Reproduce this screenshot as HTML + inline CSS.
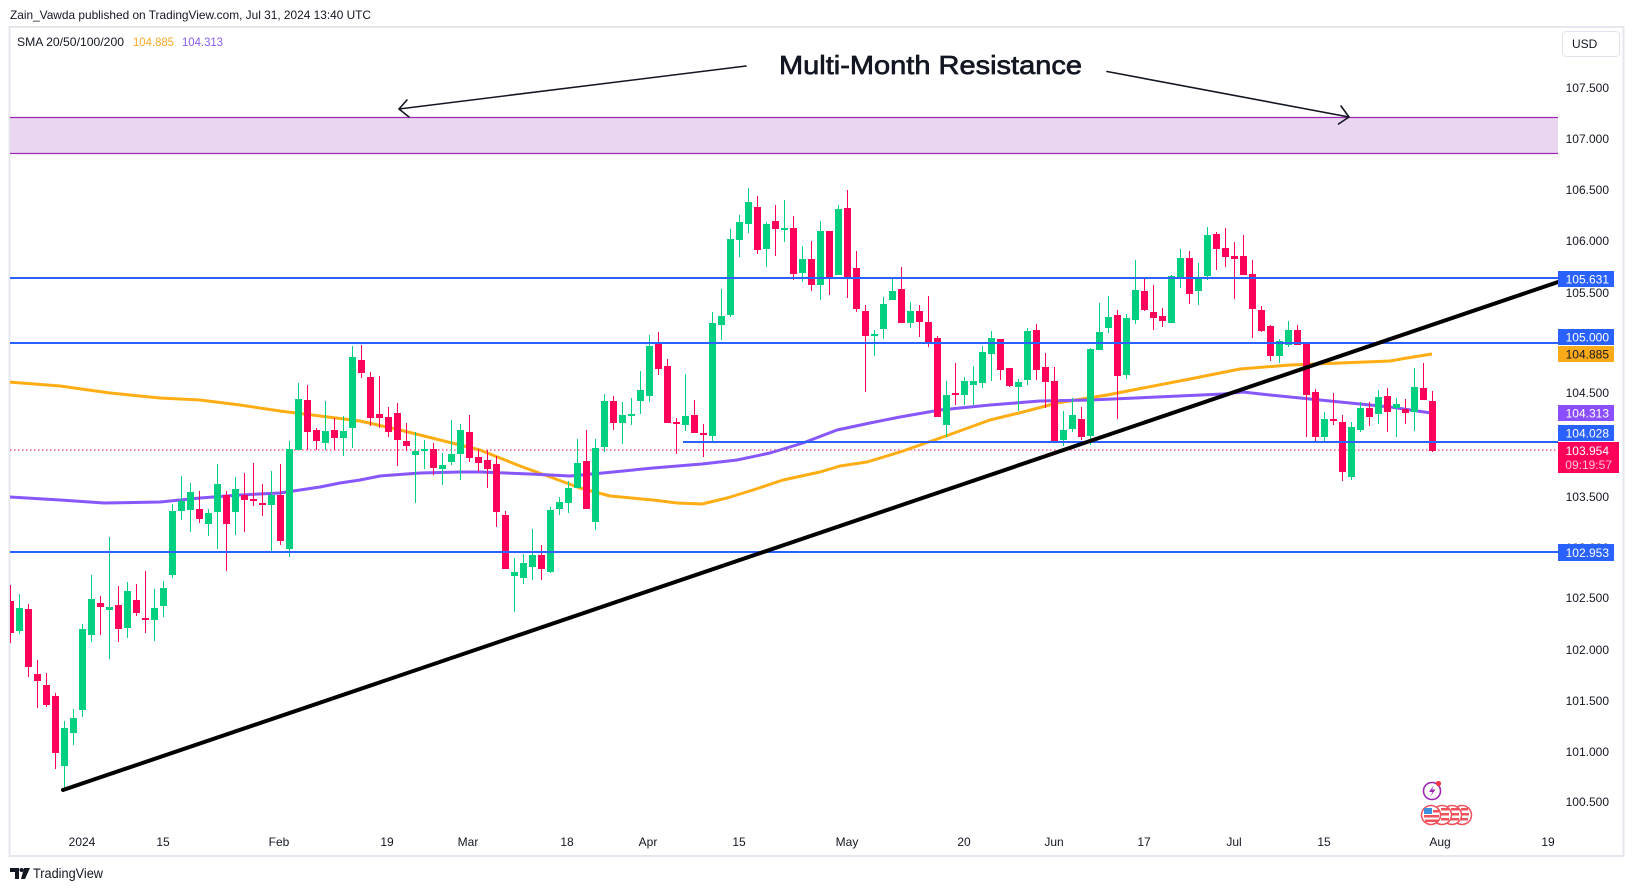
<!DOCTYPE html>
<html><head><meta charset="utf-8"><style>
html,body{margin:0;padding:0;background:#fff;}
svg{display:block;font-family:"Liberation Sans",sans-serif;}
</style></head><body>
<svg width="1634" height="891" viewBox="0 0 1634 891" xmlns="http://www.w3.org/2000/svg">
<defs><clipPath id="pane"><rect x="10" y="28" width="1548" height="827"/></clipPath></defs>
<rect width="1634" height="891" fill="#fff"/>
<text x="10" y="19" font-size="12" fill="#131722" textLength="361" lengthAdjust="spacingAndGlyphs">Zain_Vawda published on TradingView.com, Jul 31, 2024 13:40 UTC</text>
<rect x="9.5" y="27" width="1614" height="829" fill="none" stroke="#e6e7ee" stroke-width="2"/>
<text x="17" y="46" font-size="12" fill="#131722" textLength="107" lengthAdjust="spacingAndGlyphs">SMA 20/50/100/200</text>
<text x="133" y="46" font-size="12" fill="#f9a825" textLength="41" lengthAdjust="spacingAndGlyphs">104.885</text>
<text x="182" y="46" font-size="12" fill="#8a5cf6" textLength="41" lengthAdjust="spacingAndGlyphs">104.313</text>
<rect x="1562.5" y="31.5" width="57" height="25" rx="4" fill="#fff" stroke="#e0e3eb"/>
<text x="1572" y="48" font-size="12" fill="#131722">USD</text>

<g clip-path="url(#pane)">
<rect x="10" y="117" width="1548" height="37" fill="#ead6f0"/>
<line x1="10" y1="117.5" x2="1558" y2="117.5" stroke="#9c27b0" stroke-width="1.2"/>
<line x1="10" y1="153.5" x2="1558" y2="153.5" stroke="#9c27b0" stroke-width="1.2"/>

<line x1="10" y1="450" x2="1558" y2="450" stroke="#ff005a" stroke-width="1" stroke-dasharray="1.5,2.5"/>

<polyline fill="none" stroke="#ffad14" stroke-width="3" stroke-linejoin="round" points="9,382 60,386 110,393 160,398 200,400 240,405 280,411 320,416 360,421 400,430 440,440 480,450 520,466 553,478 580,488 610,496 653,500 677,503 702,504 727,498 753,490 783,480 820,472 840,466 867,462 900,452 943,437 990,420 1023,412 1057,403 1107,395 1143,388 1190,379 1240,369 1290,365 1340,363 1390,361 1407,358 1432,354"/>
<polyline fill="none" stroke="#8757fb" stroke-width="3" stroke-linejoin="round" points="9,497 60,500 104,503 160,502 200,498 240,495 280,493 320,487 340,483 360,480 380,476 420,473 460,472 480,472 530,474 570,476 603,473 653,468 702,464 737,460 770,453 803,443 837,430 870,423 900,417 940,410 990,405 1040,401 1090,400 1157,397 1223,394 1243,392 1270,395 1290,397 1340,402 1390,407 1431,413"/>

<path fill="none" stroke="#00d080" stroke-width="1" d="M19.5 594V634M64.5 721V790M73.5 709V745M82.5 624V717M91.5 575V642M109.5 537V659M127.5 582V638M154.5 589V641M163.5 581V617M172.5 504V578M181.5 476V520M190.5 483V532M208.5 509V536M217.5 464V549M235.5 477V535M271.5 471V553M289.5 441V557M298.5 383V450M325.5 401V450M343.5 416V456M352.5 346V448M415.5 432V503M424.5 440V469M442.5 453V485M451.5 420V465M460.5 424V480M514.5 558V612M523.5 554V584M532.5 529V580M550.5 507V573M559.5 497V515M568.5 481V513M577.5 439V488M595.5 439V530M604.5 394V452M622.5 402V444M631.5 398V425M640.5 371V414M649.5 335V402M685.5 374V431M712.5 312V441M721.5 289V340M730.5 229V317M739.5 215V257M748.5 188V233M766.5 222V267M784.5 200V242M802.5 246V282M820.5 221V300M838.5 205V275M874.5 330V356M883.5 297V339M892.5 278V300M910.5 302V328M946.5 381V437M964.5 377V405M973.5 366V405M982.5 346V388M991.5 331V381M1018.5 379V411M1027.5 328V385M1063.5 411V446M1072.5 398V432M1090.5 348V445M1099.5 303V350M1108.5 296V333M1126.5 314V379M1135.5 260V324M1171.5 275V323M1180.5 249V288M1198.5 263V305M1207.5 227V280M1279.5 339V363M1288.5 321V347M1324.5 412V442M1351.5 422V480M1360.5 402V432M1378.5 390V424M1396.5 398V437M1414.5 368V431"/>
<path fill="#00d080" d="M16 608h7V631h-7ZM61 728h7V766h-7ZM70 718h7V733h-7ZM79 629h7V710h-7ZM88 599h7V635h-7ZM106 607h7V610h-7ZM124 591h7V628h-7ZM151 608h7V620h-7ZM160 588h7V606h-7ZM169 511h7V575h-7ZM178 501h7V511h-7ZM187 492h7V510h-7ZM205 513h7V524h-7ZM214 484h7V512h-7ZM232 489h7V512h-7ZM268 495h7V505h-7ZM286 449h7V549h-7ZM295 399h7V450h-7ZM322 431h7V443h-7ZM340 431h7V438h-7ZM349 357h7V428h-7ZM412 451h7V455h-7ZM421 449h7V451h-7ZM439 465h7V469h-7ZM448 454h7V462h-7ZM457 430h7V454h-7ZM511 572h7V576h-7ZM520 563h7V578h-7ZM529 555h7V567h-7ZM547 510h7V572h-7ZM556 502h7V509h-7ZM565 488h7V503h-7ZM574 463h7V488h-7ZM592 448h7V522h-7ZM601 401h7V447h-7ZM619 415h7V423h-7ZM628 414h7V416h-7ZM637 390h7V401h-7ZM646 346h7V396h-7ZM682 416h7V425h-7ZM709 323h7V436h-7ZM718 316h7V325h-7ZM727 239h7V315h-7ZM736 222h7V240h-7ZM745 202h7V224h-7ZM763 224h7V249h-7ZM781 228h7V230h-7ZM799 259h7V273h-7ZM817 231h7V285h-7ZM835 209h7V275h-7ZM871 334h7V336h-7ZM880 304h7V329h-7ZM889 291h7V300h-7ZM907 311h7V323h-7ZM943 395h7V425h-7ZM961 381h7V395h-7ZM970 381h7V385h-7ZM979 352h7V383h-7ZM988 338h7V354h-7ZM1015 382h7V387h-7ZM1024 331h7V380h-7ZM1060 430h7V440h-7ZM1069 415h7V429h-7ZM1087 349h7V436h-7ZM1096 332h7V350h-7ZM1105 317h7V328h-7ZM1123 318h7V375h-7ZM1132 290h7V320h-7ZM1168 276h7V323h-7ZM1177 258h7V278h-7ZM1195 279h7V291h-7ZM1204 235h7V276h-7ZM1276 341h7V356h-7ZM1285 330h7V345h-7ZM1321 419h7V437h-7ZM1348 427h7V477h-7ZM1357 408h7V430h-7ZM1375 397h7V414h-7ZM1393 404h7V408h-7ZM1411 387h7V412h-7Z"/>
<path fill="none" stroke="#ff005a" stroke-width="1" d="M10.5 585V643M28.5 604V677M37.5 660V708M46.5 673V707M55.5 693V769M100.5 596V635M118.5 586V642M136.5 584V616M145.5 571V633M199.5 491V523M226.5 491V571M244.5 473V532M253.5 463V506M262.5 484V516M280.5 464V545M307.5 385V450M316.5 428V450M334.5 418V450M361.5 345V378M370.5 372V426M379.5 376V428M388.5 407V437M397.5 403V466M406.5 423V451M433.5 443V475M469.5 415V462M478.5 449V472M487.5 450V488M496.5 456V527M505.5 511V569M541.5 545V580M586.5 430V509M613.5 396V430M658.5 332V375M667.5 359V423M676.5 418V454M694.5 400V433M703.5 424V457M757.5 196V254M775.5 205V256M793.5 216V280M811.5 241V291M829.5 231V295M847.5 190V298M856.5 251V312M865.5 305V392M901.5 267V323M919.5 305V337M928.5 296V347M937.5 336V417M955.5 363V405M1000.5 339V380M1009.5 368V387M1036.5 324V380M1045.5 353V408M1054.5 367V442M1081.5 407V440M1117.5 310V419M1144.5 277V311M1153.5 285V330M1162.5 308V327M1189.5 251V304M1216.5 232V270M1225.5 228V267M1234.5 242V299M1243.5 235V275M1252.5 260V338M1261.5 306V332M1270.5 325V361M1297.5 325V345M1306.5 343V437M1315.5 389V441M1333.5 393V425M1342.5 415V481M1369.5 402V426M1387.5 388V432M1405.5 399V424M1423.5 363V400M1432.5 391V452"/>
<path fill="#ff005a" d="M7 601h7V633h-7ZM25 609h7V667h-7ZM34 674h7V681h-7ZM43 685h7V705h-7ZM52 696h7V753h-7ZM97 603h7V607h-7ZM115 605h7V629h-7ZM133 600h7V613h-7ZM142 618h7V620h-7ZM196 509h7V519h-7ZM223 495h7V524h-7ZM241 495h7V500h-7ZM250 499h7V501h-7ZM259 503h7V505h-7ZM277 495h7V541h-7ZM304 400h7V432h-7ZM313 430h7V441h-7ZM331 430h7V438h-7ZM358 360h7V373h-7ZM367 377h7V418h-7ZM376 414h7V418h-7ZM385 417h7V432h-7ZM394 413h7V440h-7ZM403 441h7V446h-7ZM430 449h7V468h-7ZM466 432h7V458h-7ZM475 457h7V463h-7ZM484 460h7V469h-7ZM493 464h7V512h-7ZM502 515h7V569h-7ZM538 555h7V569h-7ZM583 461h7V509h-7ZM610 401h7V423h-7ZM655 342h7V369h-7ZM664 366h7V423h-7ZM673 422h7V424h-7ZM691 415h7V433h-7ZM700 433h7V435h-7ZM754 207h7V250h-7ZM772 221h7V229h-7ZM790 228h7V274h-7ZM808 259h7V285h-7ZM826 231h7V278h-7ZM844 208h7V279h-7ZM853 268h7V309h-7ZM862 311h7V336h-7ZM898 289h7V323h-7ZM916 311h7V322h-7ZM925 322h7V342h-7ZM934 338h7V417h-7ZM952 393h7V395h-7ZM997 339h7V370h-7ZM1006 368h7V386h-7ZM1033 330h7V370h-7ZM1042 367h7V382h-7ZM1051 381h7V442h-7ZM1078 419h7V437h-7ZM1114 315h7V376h-7ZM1141 291h7V310h-7ZM1150 312h7V318h-7ZM1159 316h7V321h-7ZM1186 258h7V294h-7ZM1213 234h7V249h-7ZM1222 248h7V257h-7ZM1231 256h7V259h-7ZM1240 256h7V275h-7ZM1249 274h7V309h-7ZM1258 310h7V331h-7ZM1267 326h7V356h-7ZM1294 330h7V345h-7ZM1303 343h7V395h-7ZM1312 392h7V437h-7ZM1330 419h7V421h-7ZM1339 422h7V472h-7ZM1366 408h7V417h-7ZM1384 396h7V412h-7ZM1402 409h7V413h-7ZM1420 388h7V400h-7ZM1429 401h7V451h-7Z"/>

<g stroke="#2962ff" stroke-width="2">
<line x1="10" y1="278" x2="1558" y2="278"/>
<line x1="10" y1="343" x2="1558" y2="343"/>
<line x1="683" y1="442" x2="1558" y2="442"/>
<line x1="10" y1="552" x2="1558" y2="552"/>
</g>
<line x1="63" y1="790" x2="1558" y2="282" stroke="#000" stroke-width="4" stroke-linecap="round"/>
</g>

<!-- annotation -->
<text x="779" y="74" font-size="26" fill="#131722" textLength="303" lengthAdjust="spacingAndGlyphs" stroke="#131722" stroke-width="0.7">Multi-Month Resistance</text>
<g stroke="#131722" stroke-width="1.6" fill="none" stroke-linecap="round" stroke-linejoin="round">
<line x1="746" y1="66" x2="399" y2="109"/>
<polyline points="407,100 399,109 409,117"/>
<line x1="1107" y1="71.5" x2="1349" y2="117"/>
<polyline points="1341,106 1349,117 1338.5,124"/>
</g>

<!-- price axis -->
<g font-size="12" fill="#131722" text-anchor="end">
<text x="1609" y="92">107.500</text>
<text x="1609" y="143">107.000</text>
<text x="1609" y="194">106.500</text>
<text x="1609" y="245">106.000</text>
<text x="1609" y="297">105.500</text>
<text x="1609" y="397">104.500</text>
<text x="1609" y="501">103.500</text>
<text x="1609" y="552">103.000</text>
<text x="1609" y="602">102.500</text>
<text x="1609" y="654">102.000</text>
<text x="1609" y="705">101.500</text>
<text x="1609" y="756">101.000</text>
<text x="1609" y="806">100.500</text>
</g>
<g font-size="12" text-anchor="end">
<rect x="1558" y="271" width="56" height="16" fill="#2962ff"/>
<text x="1609" y="283.5" fill="#fff">105.631</text>
<rect x="1558" y="329" width="56" height="16" fill="#2962ff"/>
<text x="1609" y="341.5" fill="#fff">105.000</text>
<rect x="1558" y="346" width="56" height="16" fill="#fbaa1a"/>
<text x="1609" y="358.5" fill="#131722">104.885</text>
<rect x="1558" y="405" width="56" height="16" fill="#8c4fff"/>
<text x="1609" y="417.5" fill="#fff">104.313</text>
<rect x="1558" y="425" width="56" height="16" fill="#2962ff"/>
<text x="1609" y="437.5" fill="#fff">104.028</text>
<rect x="1558" y="442" width="61" height="31" fill="#ff005a"/>
<text x="1609" y="455" fill="#fff">103.954</text>
<text x="1612" y="469" fill="#ffc2d4">09:19:57</text>
<rect x="1558" y="544" width="56" height="17" fill="#2962ff"/>
<text x="1609" y="557" fill="#fff">102.953</text>
</g>

<!-- events -->
<g>
<circle cx="1462" cy="815" r="9.5" fill="#fff" stroke="#f0525c" stroke-width="1.5"/>
<circle cx="1452" cy="815" r="9.5" fill="#fff" stroke="#f0525c" stroke-width="1.5"/>
<circle cx="1442" cy="815" r="9.5" fill="#fff" stroke="#f0525c" stroke-width="1.5"/>
<circle cx="1431" cy="815" r="9.5" fill="#fff" stroke="#f0525c" stroke-width="1.5"/>
<g fill="#f0525c"><rect x="1433" y="810" width="6" height="2.5"/><rect x="1424" y="815" width="15" height="2.5"/><rect x="1425" y="819.5" width="13" height="2.5"/>
<rect x="1441" y="808" width="8" height="2.5"/><rect x="1441" y="813" width="8" height="2.5"/><rect x="1441" y="818" width="8" height="2.5"/>
<rect x="1451" y="808" width="8" height="2.5"/><rect x="1451" y="813" width="8" height="2.5"/><rect x="1451" y="818" width="8" height="2.5"/>
<rect x="1461" y="808" width="7" height="2.5"/><rect x="1461" y="813" width="8" height="2.5"/><rect x="1461" y="818" width="7" height="2.5"/></g>
<rect x="1424" y="808" width="8" height="6" fill="#3d8fe0"/>
<circle cx="1432" cy="791" r="8.5" fill="#fff" stroke="#9c27b0" stroke-width="1.6"/>
<path d="M1434 785 L1429 792 L1432.5 792 L1430 797 L1435.5 789.5 L1432 789.5 Z" fill="#9c27b0"/>
<circle cx="1438.5" cy="783.5" r="2.6" fill="#f23645"/>
</g>

<!-- time axis -->
<g font-size="12" fill="#131722" text-anchor="middle">
<text x="82" y="846">2024</text>
<text x="163" y="846">15</text>
<text x="279" y="846">Feb</text>
<text x="387" y="846">19</text>
<text x="468" y="846">Mar</text>
<text x="567" y="846">18</text>
<text x="648" y="846">Apr</text>
<text x="739" y="846">15</text>
<text x="847" y="846">May</text>
<text x="964" y="846">20</text>
<text x="1054" y="846">Jun</text>
<text x="1144" y="846">17</text>
<text x="1234" y="846">Jul</text>
<text x="1324" y="846">15</text>
<text x="1440" y="846">Aug</text>
<text x="1548" y="846">19</text>
</g>

<!-- logo -->
<g fill="#131722">
<path d="M10 868h9v11h-4v-7h-5z"/>
<circle cx="21.5" cy="870" r="2"/>
<path d="M24 868h6l-5 11h-4z"/>
</g>
<text x="33" y="878" font-size="14" fill="#131722" textLength="70" lengthAdjust="spacingAndGlyphs">TradingView</text>
</svg>
</body></html>
